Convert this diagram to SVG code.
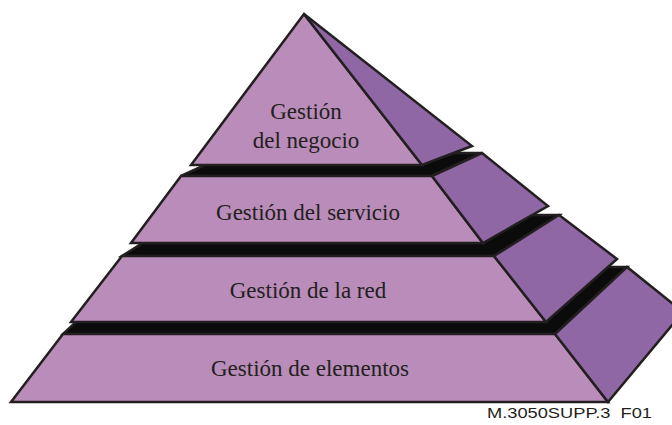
<svg xmlns="http://www.w3.org/2000/svg" width="672" height="425" viewBox="0 0 672 425">
<style>
.top{fill:#0b0b0c;stroke:#231f20;stroke-width:2.5;stroke-linejoin:miter}
.front{fill:#b98cb9;stroke:#231f20;stroke-width:2.5;stroke-linejoin:miter}
.side{fill:#8f67a4;stroke:#231f20;stroke-width:2.5;stroke-linejoin:miter}
.lbl{font-family:"Liberation Serif","Times New Roman",serif;font-size:23px;fill:#231f20;text-anchor:middle}
.cap{font-family:"Liberation Sans",Arial,sans-serif;font-size:15px;fill:#231f20}
</style>
<g id="gestion-elementos">
<polygon class="top" points="63,334 555,334 627,267 135,267"/>
<polygon class="front" points="63,334 555,334 608,402 11,402"/>
<polygon class="side" points="555,334 627,267 683,312 608,402"/>
<text class="lbl" x="310" y="376">Gestión de elementos</text>
</g>
<g id="gestion-red">
<polygon class="top" points="122,256 494,256 559,215 187,215"/>
<polygon class="front" points="122,256 494,256 546,322 71,322"/>
<polygon class="side" points="494,256 559,215 617,259 546,322"/>
<text class="lbl" x="308" y="298">Gestión de la red</text>
</g>
<g id="gestion-servicio">
<polygon class="top" points="181,176 432,176 482,153 231,153"/>
<polygon class="front" points="181,176 432,176 483,243 131,243"/>
<polygon class="side" points="432,176 482,153 548,206 483,243"/>
<text class="lbl" x="308" y="220">Gestión del servicio</text>
</g>
<g id="gestion-negocio">
<polygon class="front" points="304,14 422,165 191,165"/>
<polygon class="side" points="304,14 472,146 422,165"/>
<text class="lbl" x="306" y="119">Gestión</text>
<text class="lbl" x="306" y="148">del negocio</text>
</g>
<g id="connectors"/>
<text class="cap" x="487" y="418" textLength="165" lengthAdjust="spacingAndGlyphs">M.3050SUPP.3&#160;&#160;F01</text>
</svg>
